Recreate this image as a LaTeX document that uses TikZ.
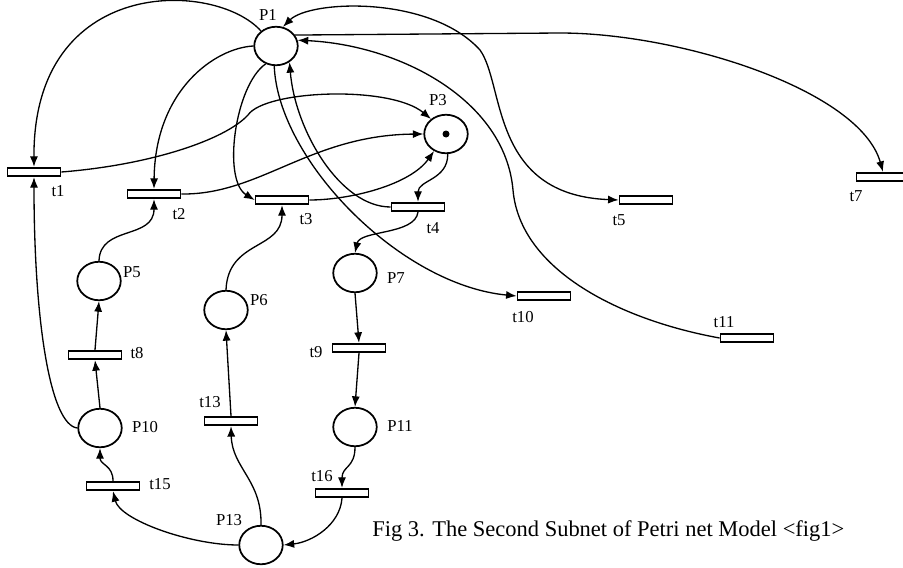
\documentclass[tikz,border=0pt]{standalone}
\usepackage{fontspec}
\setmainfont{Liberation Serif}
\usetikzlibrary{arrows.meta,shapes.geometric}

\begin{document}
\begin{tikzpicture}[x=0.02cm,y=-0.02cm,>={Latex[length=6pt,width=4.6pt]},
		place/.style={ellipse,draw,line width=1pt,minimum width=0.87cm,minimum height=0.77cm,inner sep=0pt},
		trans/.style={rectangle,draw,line width=1pt,minimum width=1.06cm,minimum height=0.17cm,inner sep=0pt},
		marking/.style={circle,fill,inner sep=0pt,minimum size=0.14cm},
		flow/.style={line width=0.75pt,->},
		both/.style={line width=0.75pt,<->},
		lbl/.style={font=\fontsize{9.5}{11}\selectfont,inner sep=0pt}]
		\useasboundingbox (0,0) rectangle (903,568);
		\node[place] (P1) at (276,46) {};
		\node[place] (P3) at (446,134) {};
		\node[marking] (tok) at (P3) {};
		\node[place] (P5) at (99,281) {};
		\node[place] (P6) at (226,310) {};
		\node[place] (P7) at (355,273) {};
		\node[place] (P10) at (100,428) {};
		\node[place] (P11) at (355,427) {};
		\node[place] (P13) at (261,545) {};
		\node[trans] (t1) at (34,172) {};
		\node[trans] (t2) at (154,194) {};
		\node[trans] (t3) at (282,200) {};
		\node[trans] (t4) at (418,207) {};
		\node[trans] (t5) at (646,200) {};
		\node[trans] (t7) at (883,177) {};
		\node[trans] (t8) at (95,355) {};
		\node[trans] (t9) at (359,348) {};
		\node[trans] (t10) at (544,296) {};
		\node[trans] (t11) at (747,338) {};
		\node[trans] (t13) at (231,421) {};
		\node[trans] (t15) at (113,486) {};
		\node[trans] (t16) at (342,493) {};
		\node[lbl] (lP1) at (268,15) {P1};
		\node[lbl] (lP3) at (438,100) {P3};
		\node[lbl] (lP5) at (132,272) {P5};
		\node[lbl] (lP6) at (259,300) {P6};
		\node[lbl] (lP7) at (396,278) {P7};
		\node[lbl] (lP10) at (145,427) {P10};
		\node[lbl] (lP11) at (400,426) {P11};
		\node[lbl] (lP13) at (229,520) {P13};
		\node[lbl] (lt1) at (58,191) {t1};
		\node[lbl] (lt2) at (179,214) {t2};
		\node[lbl] (lt3) at (306,219) {t3};
		\node[lbl] (lt4) at (433,228) {t4};
		\node[lbl] (lt5) at (619,220) {t5};
		\node[lbl] (lt7) at (856,196) {t7};
		\node[lbl] (lt8) at (137,353) {t8};
		\node[lbl] (lt9) at (316,352) {t9};
		\node[lbl] (lt10) at (523,317) {t10};
		\node[lbl] (lt11) at (724,322) {t11};
		\node[lbl] (lt13) at (210,402) {t13};
		\node[lbl] (lt15) at (160,484) {t15};
		\node[lbl] (lt16) at (322,476) {t16};
		\node[anchor=base west,inner sep=0pt,font=\fontsize{12.8}{14}\selectfont] (cap) at (372,536) {Fig 3. The Second Subnet of Petri net Model <fig1>};
		\draw[flow] (P1.135) .. controls (215,-20) and (33,-25) .. (t1.north);
		\draw[flow] (P1.180) .. controls (215,48) and (155,90) .. (t2.north);
		\draw[flow] (P1.240) .. controls (235,85) and (222,180) .. (t3.west);
		\draw[flow] (t1.east) .. controls (150,165) and (225,140) .. (248,115) .. controls (265,90) and (390,85) .. (P3.135);
		\draw[flow] (t2.east) .. controls (260,195) and (310,135) .. (P3.west);
		\draw[flow] (t3.east) .. controls (350,200) and (410,185) .. (P3.235);
		\draw[flow] (P3.275) .. controls (448,180) and (418,180) .. (t4.north);
		\draw[flow] (t4.west) .. controls (340,207) and (295,130) .. (P1.310);
		\draw[flow] (P1.265) .. controls (278,160) and (400,285) .. (t10.west);
		\draw[flow] (t11.west) .. controls (620,320) and (520,270) .. (513,190) .. controls (505,100) and (400,45) .. (P1.15);
		\draw[both] (P1.70) .. controls (310,0) and (430,-5) .. (480,50) .. controls (505,85) and (490,195) .. (t5.west);
		\draw[flow] (P1.30) -- (560,33) .. controls (680,33) and (860,90) .. (t7.north);
		\draw[flow] (t4.south) .. controls (415,235) and (360,230) .. (P7.north);
		\draw[flow] (P7.south) -- (t9.north);
		\draw[flow] (t9.south) -- (P11.north);
		\draw[flow] (P11.south) .. controls (355,468) and (342,466) .. (t16.north);
		\draw[flow] (t16.south) .. controls (340,525) and (312,542) .. (P13.east);
		\draw[flow] (P13.west) .. controls (190,545) and (120,520) .. (t15.south);
		\draw[flow] (P13.north) .. controls (262,480) and (232,468) .. (t13.south);
		\draw[flow] (t13.north) -- (P6.south);
		\draw[flow] (P6.north) .. controls (228,240) and (282,250) .. (t3.south);
		\draw[flow] (P5.north) .. controls (100,225) and (154,240) .. (t2.south);
		\draw[flow] (t8.north) -- (P5.south);
		\draw[flow] (P10.north) -- (t8.south);
		\draw[flow] (t15.north) .. controls (113,465) and (100,465) .. (P10.south);
		\draw[flow] (P10.west) .. controls (50,425) and (34,320) .. (t1.south);
\end{tikzpicture}
\end{document}
